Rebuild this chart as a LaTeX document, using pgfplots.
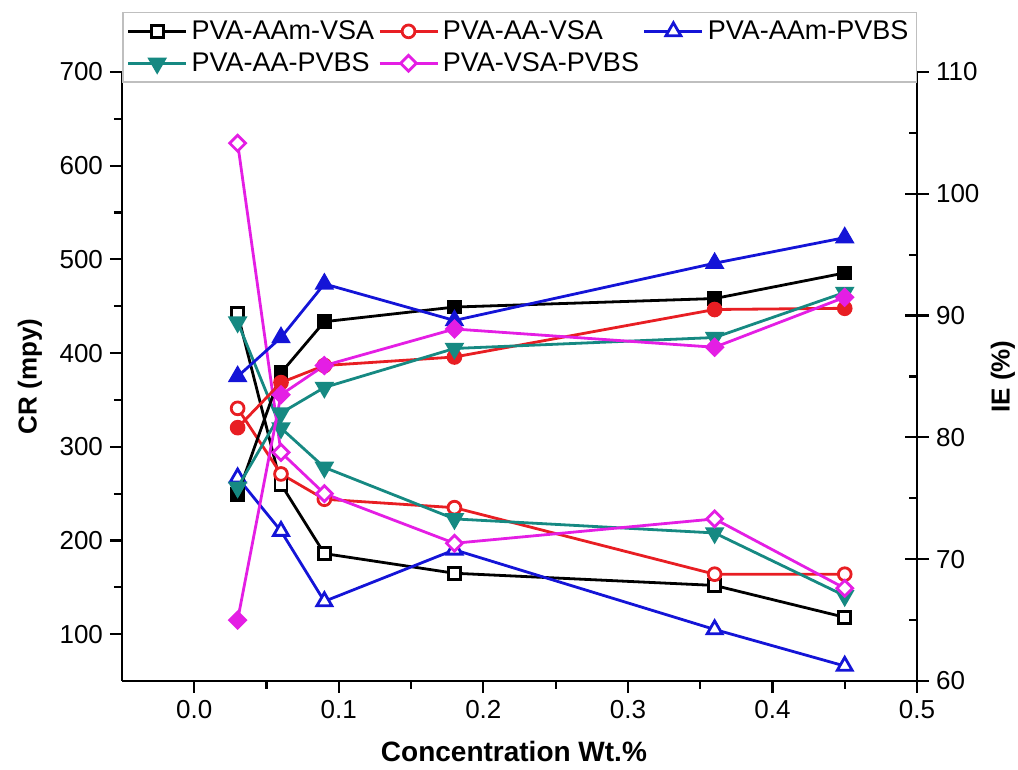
\documentclass[border=0pt]{standalone}
\usepackage{fontspec}
\setmainfont{Liberation Sans}
\usepackage{pgfplots}
\pgfplotsset{compat=1.18}
\definecolor{cR}{RGB}{232,30,35}
\definecolor{cB}{RGB}{20,20,215}
\definecolor{cT}{RGB}{22,137,130}
\definecolor{cM}{RGB}{228,30,228}
\pgfplotsset{
  common/.style={
    scale only axis, width=397.5pt, height=304.5pt,
    xmin=-0.05, xmax=0.5,
    axis line style={line width=1.2pt,-},
    tick style={line width=1.1pt, black},
    font=\fontsize{13}{15}\selectfont,
    /pgf/number format/assume math mode=true,
  },
  ser/.style={line width=1.4pt, #1, mark options={solid, line width=1pt}},
}
\begin{document}
\begin{tikzpicture}
\useasboundingbox (-61pt,-44.5pt) rectangle (448pt,340.5pt);
\begin{axis}[common,
  ymin=50, ymax=700,
  axis x line*=bottom, axis y line*=left,
  xtick={0,0.1,0.2,0.3,0.4,0.5}, minor x tick num=1,
  ytick={100,200,300,400,500,600,700}, minor y tick num=1,
  tick align=outside, major tick length=6pt, minor tick length=4pt,
  xticklabel style={/pgf/number format/.cd, fixed, fixed zerofill, precision=1},
  yticklabel style={/pgf/number format/fixed},
  xlabel={\bfseries Concentration Wt.\%},
  ylabel={\bfseries CR (mpy)},
  xlabel style={at={(axis description cs:0.493,-0.115)}, anchor=center, font=\fontsize{14}{16}\selectfont},
  ylabel style={at={(axis description cs:-0.1157,0.5)}, anchor=center, font=\fontsize{13}{15}\selectfont},
]
\addplot[ser=black, mark=square*, mark size=3pt, mark options={fill=white}] coordinates {(0.03,442)(0.06,260)(0.09,186)(0.18,165)(0.36,152)(0.45,118)};
\addplot[ser=cR, mark=*, mark size=3.2pt, mark options={fill=white}] coordinates {(0.03,341)(0.06,271)(0.09,244)(0.18,235)(0.36,164)(0.45,164)};
\addplot[ser=cB, mark=triangle*, mark size=4.3pt, mark options={fill=white}] coordinates {(0.03,267)(0.06,210)(0.09,135)(0.18,190)(0.36,105)(0.45,66)};
\addplot[ser=cT, mark=triangle*, mark size=4.3pt, mark options={rotate=180, fill=cT}] coordinates {(0.03,433)(0.06,320)(0.09,278)(0.18,223)(0.36,208)(0.45,141)};
\addplot[ser=cM, mark=square*, mark size=2.8pt, mark options={rotate=45, fill=white}] coordinates {(0.03,624)(0.06,294)(0.09,250)(0.18,197)(0.36,223)(0.45,149)};
\end{axis}
\begin{axis}[common,
  ymin=60, ymax=110,
  axis y line*=right, axis x line=none,
  ytick={60,70,80,90,100,110}, minor y tick num=1,
  tick align=center, major tick length=12pt, minor tick length=4pt,
  minor tick style={xshift=-2pt},
  ylabel={\bfseries IE (\%)},
  ylabel style={at={(axis description cs:1.108,0.5)}, anchor=center, font=\fontsize{13}{15}\selectfont},
  legend columns=3,
  legend cell align=left,
  legend style={at={(axis description cs:0,0.982)}, anchor=south west,
    draw=black!25, line width=0.8pt, fill=white,
    font=\fontsize{13.5}{15}\selectfont,
    inner sep=2pt, row sep=1pt,
    /tikz/every even column/.append style={column sep=0pt}},
  legend image code/.code={\draw[mark repeat=2,mark phase=2] plot coordinates {(0pt,0pt)(14.5pt,0pt)(29pt,0pt)};},
]
\addlegendimage{ser=black, mark=square*, mark size=3pt, mark options={fill=white}}
\addlegendentry{PVA-AAm-VSA}
\addlegendimage{ser=cR, mark=*, mark size=3.2pt, mark options={fill=white}}
\addlegendentry{PVA-AA-VSA}
\addlegendimage{ser=cB, mark=triangle*, mark size=4.3pt, mark options={fill=white}}
\addlegendentry{PVA-AAm-PVBS}
\addlegendimage{ser=cT, mark=triangle*, mark size=4.3pt, mark options={rotate=180, fill=cT}}
\addlegendentry{PVA-AA-PVBS}
\addlegendimage{ser=cM, mark=square*, mark size=2.8pt, mark options={rotate=45, fill=white}}
\addlegendentry{PVA-VSA-PVBS}
\addplot[ser=black, mark=square*, mark size=3pt, mark options={fill=black}, forget plot] coordinates {(0.03,75.3)(0.06,85.3)(0.09,89.5)(0.18,90.7)(0.36,91.4)(0.45,93.5)};
\addplot[ser=cR, mark=*, mark size=3.2pt, mark options={fill=cR}, forget plot] coordinates {(0.03,80.8)(0.06,84.5)(0.09,85.9)(0.18,86.6)(0.36,90.5)(0.45,90.6)};
\addplot[ser=cB, mark=triangle*, mark size=4.3pt, mark options={fill=cB}, forget plot] coordinates {(0.03,85.0)(0.06,88.2)(0.09,92.6)(0.18,89.6)(0.36,94.3)(0.45,96.4)};
\addplot[ser=cT, mark=triangle*, mark size=4.3pt, mark options={rotate=180, fill=cT}, forget plot] coordinates {(0.03,75.9)(0.06,82.0)(0.09,84.1)(0.18,87.3)(0.36,88.2)(0.45,91.9)};
\addplot[ser=cM, mark=square*, mark size=2.8pt, mark options={rotate=45, fill=cM}, forget plot] coordinates {(0.03,65.0)(0.06,83.5)(0.09,85.9)(0.18,88.9)(0.36,87.4)(0.45,91.5)};
\end{axis}
\end{tikzpicture}
\end{document}
